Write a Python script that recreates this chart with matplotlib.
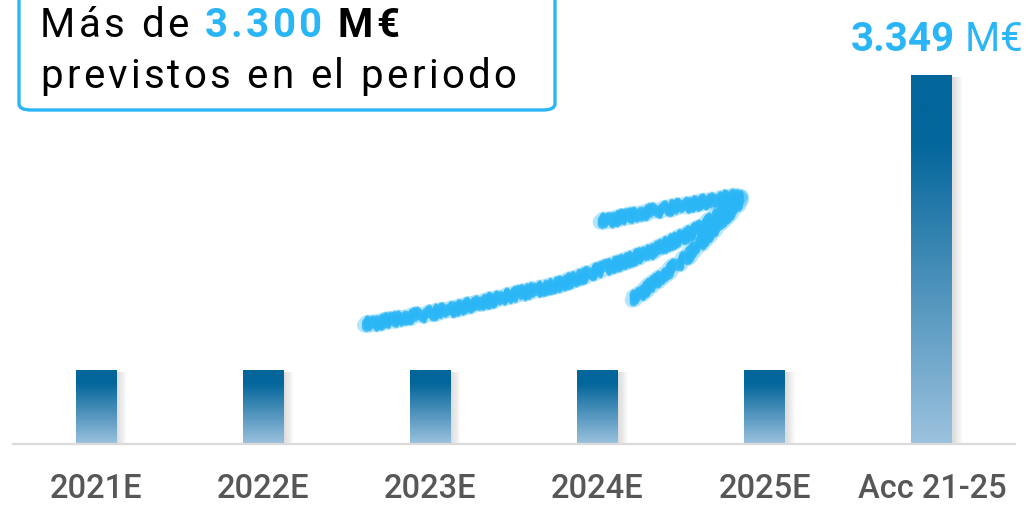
import numpy as np
import matplotlib
matplotlib.use("Agg")
import matplotlib.pyplot as plt
from matplotlib.colors import LinearSegmentedColormap
from matplotlib.patches import FancyBboxPatch, Rectangle

# ── Data ─────────────────────────────────────────────────────────────────────
categories = ["2021E", "2022E", "2023E", "2024E", "2025E", "Acc 21-25"]
values = [669, 670, 670, 670, 670, 3349]
total_label = "3.349"
box_amount = "3.300"

# ── Style ────────────────────────────────────────────────────────────────────
LIGHT_BLUE = "#2ab6f6"
DARK_BLUE = "#03669b"
PALE_BLUE = "#9cc2de"
LABEL_GREY = "#575757"
FONT = "Roboto"

bar_cmap = LinearSegmentedColormap.from_list(
    "bar", [(0.0, PALE_BLUE), (0.82, DARK_BLUE), (1.0, DARK_BLUE)])

W, H = 1028, 511
fig = plt.figure(figsize=(W / 100, H / 100), dpi=100)
ax = fig.add_axes([12.5 / W, 67 / H, 1003 / W, 444 / H])
ax.set_xlim(-0.5, 5.5)
ax.set_ylim(0, 4040)

bar_w = 0.245
px = 1 / 167.2  # one pixel in x data units
grad = np.linspace(0, 1, 256).reshape(-1, 1)

for i, v in enumerate(values):
    x0, x1 = i - bar_w / 2, i + bar_w / 2
    # soft shadow on the right
    for k in range(1, 9):
        ax.add_patch(Rectangle((x0 + k * 1.2 * px, -12), bar_w, v, facecolor="#808080",
                               edgecolor="none", alpha=0.035, zorder=1))
    ax.imshow(grad, extent=[x0, x1, 0, v], origin="lower", aspect="auto",
              cmap=bar_cmap, zorder=2, interpolation="bilinear")

ax.set_xlim(-0.5, 5.5)
ax.set_ylim(0, 4040)

for s in ["top", "right", "left"]:
    ax.spines[s].set_visible(False)
ax.spines["bottom"].set_color("#dadada")
ax.spines["bottom"].set_linewidth(1.6)
ax.set_yticks([])
ax.set_xticks(range(len(categories)))
ax.set_xticklabels(categories, fontsize=23.5, color=LABEL_GREY, family=FONT,
                   fontweight="medium")
ax.tick_params(axis="x", length=0, pad=21)
ax.patch.set_alpha(0)

# ── Hand-drawn arrow (axes fraction) ─────────────────────────────────────────
shaft_x = [0.351, 0.436, 0.546, 0.636, 0.686, 0.727]
shaft_y = [0.268, 0.302, 0.360, 0.432, 0.486, 0.556]
barb1_x = [0.586, 0.645, 0.725]
barb1_y = [0.500, 0.527, 0.559]
barb2_x = [0.618, 0.675, 0.727]
barb2_y = [0.324, 0.426, 0.550]

strokes = [(0, 11, 0.35, 2), (0.006, 4, 0.7, 3), (-0.006, 4, 0.7, 3),
           (0.002, 4, 0.6, 4), (-0.002, 4, 0.6, 4), (0.010, 2.5, 0.6, 3),
           (-0.010, 2.5, 0.6, 3)]
for xs, ys in [(shaft_x, shaft_y), (barb1_x, barb1_y), (barb2_x, barb2_y)]:
    for off, lw, a, sc in strokes:
        ln, = ax.plot(xs, np.array(ys) + off, color=LIGHT_BLUE, lw=lw, alpha=a,
                      solid_capstyle="round", solid_joinstyle="round",
                      transform=ax.transAxes, zorder=3)
        ln.set_sketch_params(scale=sc, length=3, randomness=12)

# ── Text box ─────────────────────────────────────────────────────────────────
box = FancyBboxPatch((19 / W, 1 - 110 / H), 536 / W, 130 / H,
                     boxstyle="round,pad=0,rounding_size=0.012",
                     transform=fig.transFigure, facecolor="white",
                     edgecolor=LIGHT_BLUE, linewidth=2.4, zorder=5)
fig.patches.append(box)

renderer = fig.canvas.get_renderer()


def put_runs(x_px, y_px, runs, ha="left", track=0.0):
    """Place styled text runs side by side, char by char with extra tracking (px)."""
    pieces = []
    for s, kw in runs:
        chars = list(s) if track else [s]
        for c in chars:
            t = fig.text(0, 0, c, va="baseline", **kw)
            w = t.get_window_extent(renderer).width
            if c == " ":
                w = kw["fontsize"] * 100 / 72 * 0.25
            pieces.append((t, w + track))
    total = sum(w for _, w in pieces) - track
    x = x_px if ha == "left" else x_px - total
    for t, w in pieces:
        t.set_position((x / W, 1 - y_px / H))
        x += w


base = dict(fontsize=29, family=FONT, zorder=6)
put_runs(40, 37, [("Más de ", dict(color="black", **base)),
                  (box_amount, dict(color=LIGHT_BLUE, fontweight="bold", **base)),
                  (" M€", dict(color="black", fontweight="bold", **base))], track=3.2)
put_runs(40, 88, [("previstos en el periodo", dict(color="black", **base))], track=3.2)

tot = dict(fontsize=29, family=FONT, color=LIGHT_BLUE)
put_runs(1023, 51, [(total_label, dict(fontweight="bold", **tot)),
                    (" M€", dict(**tot))], ha="right")

fig.savefig("out.png", dpi=100)
